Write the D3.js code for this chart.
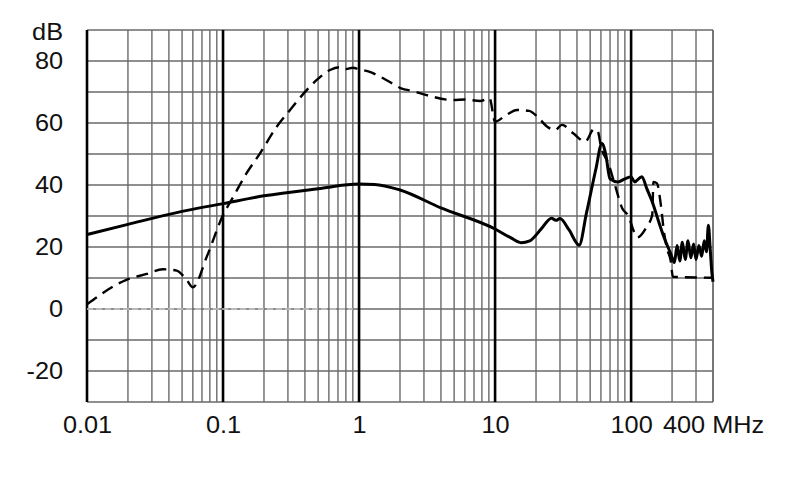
<!DOCTYPE html>
<html><head><meta charset="utf-8">
<script src="https://cdn.jsdelivr.net/npm/d3@7"></script>
<style>body{margin:0;background:#fff} text{font-family:"Liberation Sans",Arial,sans-serif;fill:#111}</style>
</head><body><svg id="c" width="790" height="499"></svg>
<script>
// ---- data ----
const xTickValues = [0.01, 0.1, 1, 10, 100, 400];
const xTickLabels = ["0.01", "0.1", "1", "10", "100", "400 MHz"];
const yTickValues = [-20, 0, 20, 40, 60, 80];
const yUnit = "dB";
const xDomain = [0.01, 400];
const yDomain = [-30, 90];

const solidFreq = [0.01, 0.02, 0.05, 0.1, 0.2, 0.5, 1, 1.3, 2, 4, 10, 13, 15.5, 18, 22, 26, 28, 30, 35, 41.5, 47, 55, 61, 65, 70, 80, 90, 100, 106, 120, 130, 143, 160, 175, 195,
  208, 218, 228, 238, 250, 262, 275, 288, 300, 315, 330, 345, 358, 370, 382, 392, 400];
const solidDb = [24, 27.3, 31.5, 34, 36.5, 38.8, 40.3, 40.2, 38.4, 32.6, 25.8, 23, 21.4, 22, 26, 29.3, 28.6, 29.2, 25.5, 20.6, 31, 45, 53.4, 50, 42, 41, 42, 42.7, 41, 42.7, 39, 34.6, 28, 23, 18,
  15, 20.5, 15.5, 21.5, 16, 22, 16.5, 21, 16, 20.5, 17, 22, 18.5, 27, 19, 12, 8.8];

const dashFreq = [0.01, 0.0195, 0.0275, 0.036, 0.0456, 0.054, 0.06, 0.076, 0.1, 0.119, 0.149, 0.187, 0.248, 0.311, 0.412, 0.489, 0.612, 0.72, 0.8, 0.9, 1, 1.2, 1.42, 1.67, 2.04, 2.5, 3.14, 4.9, 6, 7.78, 9.1, 10,
  12.1, 14.5, 17.8, 20.5, 24.2, 27.6, 31, 37.5, 46, 53.3, 57, 60, 68, 75.5, 86, 96, 105, 111, 130, 143, 146, 155, 165, 175, 185, 195, 203, 400];
const dashDb = [1.5, 9.4, 11.3, 12.8, 12.4, 9.4, 7.0, 16.9, 30.3, 36.2, 43.8, 50.2, 58.8, 64.2, 70.6, 73.9, 77.1, 78, 77.4, 77.8, 77.3, 76.5, 75, 73.3, 71.2, 70.3, 69, 67.4, 67.6, 67.1, 68, 60.4,
  62.6, 64.2, 63.9, 62, 58.8, 57.7, 59.4, 56.7, 54, 58, 57.2, 52.4, 47, 40.5, 32.5, 29.8, 24.9, 23.1, 26.5, 30.3, 41, 40.5, 34, 24.4, 19, 15.8, 10.4, 10.1];

const refFreq = [0.01, 0.9];
const refDb = [0, 0];

// ---- layout ----
const plot = {left: 87, right: 713, top: 30, bottom: 402};
const svg = d3.select("#c");
const x = d3.scaleLog().domain(xDomain).range([plot.left, plot.right]);
const y = d3.scaleLinear().domain(yDomain).range([plot.bottom, plot.top]);
const sx = 1.1;
const fs = 23;

// grid
const decades = [0.01, 0.1, 1, 10, 100];
const minor = [];
decades.forEach(d => { for (let k = 2; k <= 9; k++) { const v = +(k * d).toPrecision(3); if (v <= xDomain[1]) minor.push(v); } });
minor.push(xDomain[1]);
const hLines = d3.range(yDomain[0], yDomain[1] + 1, 10);

const grid = svg.append("g");
grid.selectAll("line.h").data(hLines).join("line")
  .attr("x1", plot.left).attr("x2", plot.right)
  .attr("y1", d => y(d)).attr("y2", d => y(d))
  .attr("stroke", "#6a6a6a").attr("stroke-width", 1.4);
grid.selectAll("line.v").data(minor).join("line")
  .attr("x1", d => x(d)).attr("x2", d => x(d))
  .attr("y1", plot.top).attr("y2", plot.bottom)
  .attr("stroke", "#6a6a6a").attr("stroke-width", 1.4);
grid.selectAll("line.d").data(decades).join("line")
  .attr("x1", d => x(d)).attr("x2", d => x(d))
  .attr("y1", plot.top).attr("y2", plot.bottom)
  .attr("stroke", "#000").attr("stroke-width", 2.6);

// reference 0 dB line
const line = d3.line().x(d => x(d[0])).y(d => y(d[1]));
svg.append("path").datum(d3.zip(refFreq, refDb)).attr("d", line)
  .attr("fill", "none").attr("stroke", "#c8c8c8").attr("stroke-width", 1.5).attr("stroke-dasharray", "6,3");

const curve = d3.line().x(d => x(d[0])).y(d => y(d[1])).curve(d3.curveMonotoneX);
svg.append("path").datum(d3.zip(dashFreq, dashDb)).attr("d", curve)
  .attr("fill", "none").attr("stroke", "#000").attr("stroke-width", 2.4).attr("stroke-dasharray", "12,7");
svg.append("path").datum(d3.zip(solidFreq, solidDb)).attr("d", curve)
  .attr("fill", "none").attr("stroke", "#000").attr("stroke-width", 3).attr("stroke-linejoin", "round");

// axes
const xAxis = d3.axisBottom(x).tickValues(xTickValues).tickSize(0).tickPadding(14.5)
  .tickFormat((d, i) => xTickLabels[i]);
const gx = svg.append("g").attr("transform", `translate(0,${plot.bottom})`).call(xAxis);
gx.select(".domain").remove();
gx.selectAll("text").attr("font-size", fs).attr("font-family", "Liberation Sans, Arial, sans-serif")
  .attr("transform", `scale(${sx},1)`);

const yAxis = d3.axisLeft(y).tickValues(yTickValues).tickSize(0).tickPadding(24 / sx)
  .tickFormat(d => String(d));
const gy = svg.append("g").attr("transform", `translate(${plot.left},0)`).call(yAxis);
gy.select(".domain").remove();
gy.selectAll("text").attr("font-size", fs).attr("font-family", "Liberation Sans, Arial, sans-serif")
  .attr("x", -24 / sx).attr("transform", `scale(${sx},1)`);

svg.append("text").attr("transform", `translate(63,40) scale(${sx},1)`)
  .attr("text-anchor", "end").attr("font-size", fs).text(yUnit);
</script></body></html>
